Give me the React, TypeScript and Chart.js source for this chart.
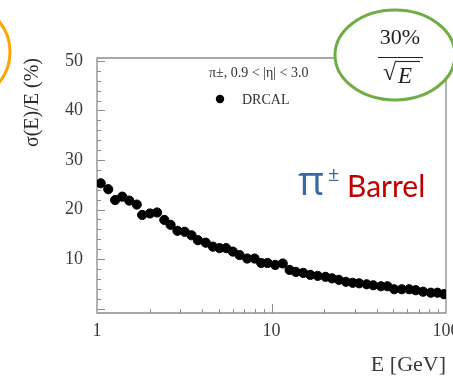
import React, { useEffect, useRef } from 'react';
import { Chart, registerables } from 'chart.js';

Chart.register(...registerables);

// ---- data ----
const energies = [
  1.05, 1.16, 1.27, 1.395, 1.53, 1.69, 1.815, 2.01, 2.21, 2.43, 2.64, 2.89, 3.18, 3.48, 3.79, 4.2, 4.62,
  5.04, 5.5, 6.0, 6.56, 7.26, 8.0, 8.73, 9.5, 10.5, 11.6, 12.7, 13.8, 15.2, 16.7, 18.4, 20.4, 22.2,
  24.3, 26.7, 29.2, 31.8, 35.1, 38.3, 42.4, 46.2, 50.5, 55.8, 61.5, 67.1, 73.9, 81.8, 89.3, 97.4,
];
const resolution = [
  25.3, 24.1, 21.9, 22.6, 21.8, 21.0, 18.9, 19.2, 19.4, 17.9, 16.9, 15.7, 15.5, 14.8, 13.8, 13.3, 12.5,
  12.2, 12.2, 11.5, 10.8, 10.1, 10.1, 9.2, 9.2, 8.8, 9.1, 7.8, 7.4, 7.2, 6.8, 6.6, 6.4, 6.1,
  5.8, 5.4, 5.2, 5.1, 4.9, 4.7, 4.5, 4.5, 3.9, 3.9, 3.9, 3.7, 3.4, 3.2, 3.2, 2.9,
];
const yTickValues = [10, 20, 30, 40, 50];
const yMinorTickValues = [0, 2, 4, 6, 8, 10, 12, 14, 16, 18, 20, 22, 24, 26, 28, 30, 32, 34, 36, 38, 40, 42, 44, 46, 48, 50];
const xTickValues = [1, 10, 100];
const xTickLabels = ['1', '10', '100'];
const xMinorTickValues = [2, 3, 4, 5, 6, 7, 8, 9, 20, 30, 40, 50, 60, 70, 80, 90];
const seriesLabel = 'DRCAL';
const legendTitle = 'π±, 0.9 < |η| < 3.0';
const yTitle = 'σ(E)/E (%)';
const xTitle = 'E [GeV]';
const stochasticText = '30%';
const sqrtSymbol = '√';
const sqrtArg = 'E';
const particleText = 'π';
const chargeText = '±';
const regionText = 'Barrel';

const SERIF = '"Liberation Serif", "DejaVu Serif", serif';
const AXIS_GRAY = '#8c8c8c';
const TEXT_GRAY = '#3a3a3a';

const decorPlugin = {
  id: 'decor',
  beforeDatasetsDraw(chart: any) {
    const { ctx, chartArea: a, scales } = chart;
    const x = scales.x;
    const y = scales.y;
    ctx.save();
    ctx.strokeStyle = AXIS_GRAY;
    ctx.lineWidth = 1.3;
    ctx.beginPath();
    ctx.rect(a.left, a.top, a.right - a.left, a.bottom - a.top);
    ctx.stroke();
    ctx.lineWidth = 1;
    ctx.beginPath();
    yMinorTickValues.forEach((v) => {
      const py = Math.round(y.getPixelForValue(v)) + 0.5;
      const len = v % 10 === 0 ? 8 : 4;
      ctx.moveTo(a.left, py);
      ctx.lineTo(a.left + len, py);
    });
    xMinorTickValues.forEach((v) => {
      const px = Math.round(x.getPixelForValue(v)) + 0.5;
      ctx.moveTo(px, a.bottom);
      ctx.lineTo(px, a.bottom - 4);
    });
    [10].forEach((v) => {
      const px = Math.round(x.getPixelForValue(v)) + 0.5;
      ctx.moveTo(px, a.bottom);
      ctx.lineTo(px, a.bottom - 9);
    });
    ctx.stroke();
    ctx.restore();
  },
  afterDraw(chart: any) {
    const { ctx } = chart;
    ctx.save();
    // legend block
    ctx.fillStyle = '#333';
    ctx.font = `14px ${SERIF}`;
    ctx.textAlign = 'left';
    ctx.textBaseline = 'middle';
    ctx.fillText(legendTitle, 209, 73);
    ctx.beginPath();
    ctx.arc(220, 99, 4.2, 0, Math.PI * 2);
    ctx.fillStyle = '#000';
    ctx.fill();
    ctx.fillStyle = '#333';
    ctx.font = `14px ${SERIF}`;
    ctx.fillText(seriesLabel, 242, 100);

    // green ellipse with 30%/sqrt(E)
    ctx.beginPath();
    ctx.ellipse(395, 55, 60, 45, 0, 0, Math.PI * 2);
    ctx.fillStyle = '#fff';
    ctx.fill();
    ctx.lineWidth = 3;
    ctx.strokeStyle = '#70AD47';
    ctx.stroke();
    ctx.fillStyle = '#222';
    ctx.textAlign = 'center';
    ctx.font = `22px ${SERIF}`;
    ctx.fillText(stochasticText, 400, 38);
    ctx.strokeStyle = '#222';
    ctx.lineWidth = 1.2;
    ctx.beginPath();
    ctx.moveTo(378, 57.5);
    ctx.lineTo(423, 57.5);
    ctx.stroke();
    ctx.textAlign = 'left';
    ctx.font = `24px ${SERIF}`;
    ctx.fillText(sqrtSymbol, 383, 74);
    ctx.font = `italic 23px ${SERIF}`;
    ctx.fillText(sqrtArg, 398, 77);
    ctx.lineWidth = 1.1;
    ctx.beginPath();
    ctx.moveTo(396, 61.5);
    ctx.lineTo(420, 61.5);
    ctx.stroke();

    // orange ellipse at left edge
    ctx.beginPath();
    ctx.ellipse(-35, 52, 45, 47, 0, 0, Math.PI * 2);
    ctx.lineWidth = 3;
    ctx.strokeStyle = '#FFA500';
    ctx.stroke();

    // pi+- Barrel
    ctx.textBaseline = 'alphabetic';
    ctx.fillStyle = '#3A68A3';
    ctx.font = '40px "Open Sans", "DejaVu Sans", sans-serif';
    ctx.fillText(particleText, 298, 195);
    ctx.font = '20px "Open Sans", "DejaVu Sans", sans-serif';
    ctx.fillText(chargeText, 328, 181);
    ctx.fillStyle = '#C00000';
    ctx.font = '30px Lato, "Open Sans", sans-serif';
    ctx.fillText(regionText, 347, 197);
    ctx.restore();
  },
};

export default function App() {
  const canvasRef = useRef<HTMLCanvasElement | null>(null);

  useEffect(() => {
    const canvas = canvasRef.current;
    if (!canvas) return;
    const chart = new Chart(canvas, {
      type: 'scatter',
      data: {
        datasets: [
          {
            label: seriesLabel,
            data: energies.map((e, i) => ({ x: e, y: resolution[i] })),
            backgroundColor: '#000',
            borderColor: '#000',
            pointRadius: 4.6,
            pointHoverRadius: 4.6,
            showLine: false,
          },
        ],
      },
      options: {
        animation: false,
        responsive: false,
        layout: { padding: { left: 0, top: 58, right: 7, bottom: 0 } },
        plugins: { legend: { display: false }, tooltip: { enabled: false } },
        scales: {
          x: {
            type: 'logarithmic',
            min: 1,
            max: 100,
            grid: { display: false, drawTicks: false },
            border: { display: false },
            afterBuildTicks: (s: any) => {
              s.ticks = xTickValues.map((v) => ({ value: v }));
            },
            afterFit: (s: any) => {
              s.height = 66;
              s.paddingLeft = 0;
              s.paddingRight = 0;
            },
            ticks: {
              autoSkip: false,
              maxRotation: 0,
              padding: 7,
              color: TEXT_GRAY,
              font: { family: SERIF, size: 18 },
              callback: (v: any) => {
                const i = xTickValues.indexOf(Number(v));
                return i >= 0 ? xTickLabels[i] : '';
              },
            },
            title: {
              display: true,
              text: xTitle,
              align: 'end',
              color: TEXT_GRAY,
              font: { family: SERIF, size: 22 },
              padding: { top: 0, bottom: 1 },
            },
          },
          y: {
            type: 'linear',
            min: -0.9,
            max: 50.6,
            grid: { display: false, drawTicks: false },
            border: { display: false },
            afterBuildTicks: (s: any) => {
              s.ticks = yTickValues.map((v) => ({ value: v }));
            },
            afterFit: (s: any) => {
              s.width = 97;
              s.paddingTop = 0;
              s.paddingBottom = 0;
            },
            ticks: {
              padding: 14,
              color: TEXT_GRAY,
              font: { family: SERIF, size: 18 },
              callback: (v: any) => String(v),
            },
            title: {
              display: true,
              text: yTitle,
              align: 'end',
              color: '#2a2a2a',
              font: { family: SERIF, size: 20 },
              padding: { top: 21, bottom: 0 },
            },
          },
        },
      },
      plugins: [decorPlugin],
    });
    return () => chart.destroy();
  }, []);

  return (
    <div style={{ position: 'fixed', left: 0, top: 0, width: 453, height: 379, background: '#fff' }}>
      <canvas ref={canvasRef} width={453} height={379} />
    </div>
  );
}
